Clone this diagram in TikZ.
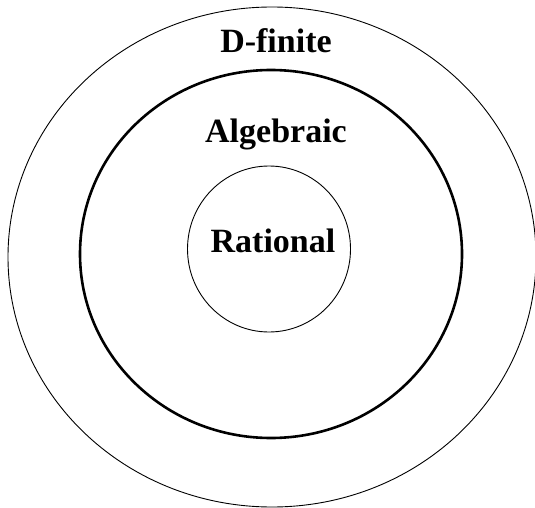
\documentclass[tikz,border=0pt]{standalone}
\usepackage{fontspec}
\setmainfont{Liberation Serif}
\begin{document}
\begin{tikzpicture}[x=1bp,y=-1bp,
  thinring/.style={draw=black,line width=0.9bp},
  thickring/.style={draw=black,line width=2.6bp},
  lbl/.style={anchor=base,inner sep=0pt,font=\fontsize{34bp}{40bp}\selectfont\bfseries}]
\useasboundingbox (0,0) rectangle (535,508);
\draw[thinring] (272,257) ellipse [x radius=264, y radius=250];
\draw[thickring] (271,254) ellipse [x radius=191, y radius=184];
\draw[thinring] (269,249) ellipse [x radius=81.5, y radius=83];
\node[lbl] (dfin) at (276,53) {D-finite};
\node[lbl] (alg) at (276,143) {Algebraic};
\node[lbl] (rat) at (273,252) {Rational};
\end{tikzpicture}
\end{document}
